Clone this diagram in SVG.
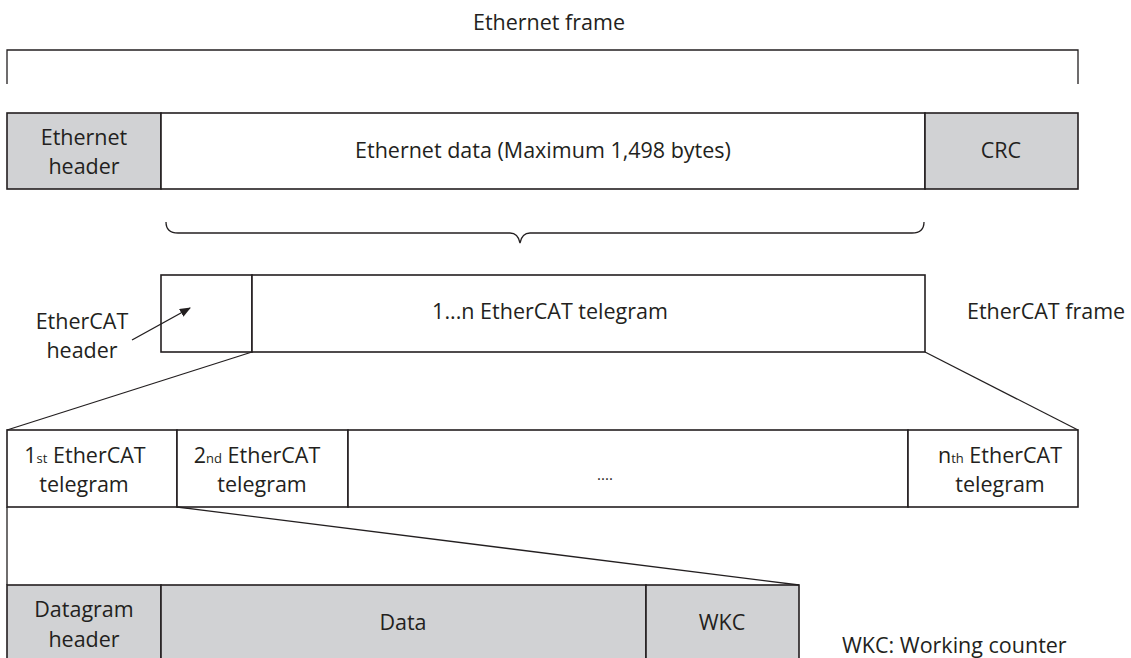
<svg xmlns="http://www.w3.org/2000/svg" width="1131" height="658" viewBox="0 0 1131 658">
<style>
text{font-family:"Open Sans","Liberation Sans",sans-serif;font-size:21.5px;fill:#231f20;text-anchor:middle}
.l{text-anchor:start}
.box{stroke:#231f20;stroke-width:1.6;fill:#fff}
.g{fill:#d1d2d4}
.ln{stroke:#231f20;stroke-width:1.3;fill:none}
.sub{font-size:13px}
</style>
<defs>
<marker id="ah" markerWidth="11" markerHeight="9" refX="10" refY="4.5" orient="auto" markerUnits="userSpaceOnUse">
<path d="M0,0 L11,4.5 L0,9 z" fill="#231f20"/>
</marker>
</defs>
<rect width="1131" height="658" fill="#fff"/>
<g id="title"><text x="549" y="30">Ethernet frame</text></g>
<g id="eth-header"><rect class="box g" x="7" y="113" width="154" height="76"/><text x="84" y="145">Ethernet</text><text x="84" y="174">header</text></g>
<g id="eth-data"><rect class="box" x="161" y="113" width="764" height="76"/><text x="543" y="158">Ethernet data (Maximum 1,498 bytes)</text></g>
<g id="crc"><rect class="box g" x="925" y="113" width="153" height="76"/><text x="1001" y="158">CRC</text></g>
<g id="ecat-header"><rect class="box" x="161" y="275" width="91" height="77"/></g>
<g id="ecat-header-label"><text x="82" y="329">EtherCAT</text><text x="82" y="358">header</text></g>
<g id="ecat-telegrams"><rect class="box" x="252" y="275" width="673" height="77"/><text x="550" y="319">1...n EtherCAT telegram</text></g>
<g id="ecat-frame-label"><text class="l" x="967" y="319">EtherCAT frame</text></g>
<g id="tg1"><rect class="box" x="7" y="430" width="170" height="77"/><text x="85" y="463">1<tspan class="sub">st</tspan> EtherCAT</text><text x="84" y="492">telegram</text></g>
<g id="tg2"><rect class="box" x="177" y="430" width="171" height="77"/><text x="257" y="463">2<tspan class="sub">nd</tspan> EtherCAT</text><text x="262" y="492">telegram</text></g>
<g id="tgdots"><rect class="box" x="348" y="430" width="560" height="77"/><text x="605" y="480" style="font-size:15px">....</text></g>
<g id="tgn"><rect class="box" x="908" y="430" width="170" height="77"/><text x="1000" y="463">n<tspan class="sub">th</tspan> EtherCAT</text><text x="1000" y="492">telegram</text></g>
<g id="dg-header"><rect class="box g" x="7" y="585" width="154" height="80"/><text x="84" y="617">Datagram</text><text x="84" y="647">header</text></g>
<g id="dg-data"><rect class="box g" x="161" y="585" width="485" height="80"/><text x="403" y="630">Data</text></g>
<g id="wkc"><rect class="box g" x="646" y="585" width="153" height="80"/><text x="722" y="630">WKC</text></g>
<g id="wkc-note"><text class="l" x="842" y="653">WKC: Working counter</text></g>
<g id="connectors">
<path class="ln" d="M7,84 V50 H1078 V84"/>
<path class="ln" d="M166,222 Q166,233 178,233 H510 Q518,233 520,243 Q522,233 530,233 H912 Q924,233 924,222"/>
<line class="ln" x1="132" y1="340" x2="190" y2="308" marker-end="url(#ah)"/>
<line class="ln" x1="252" y1="352" x2="7" y2="430"/>
<line class="ln" x1="925" y1="352" x2="1078" y2="430"/>
<line class="ln" x1="177" y1="507" x2="799" y2="585"/>
<line class="ln" x1="7" y1="507" x2="7" y2="585"/>
</g>
</svg>
